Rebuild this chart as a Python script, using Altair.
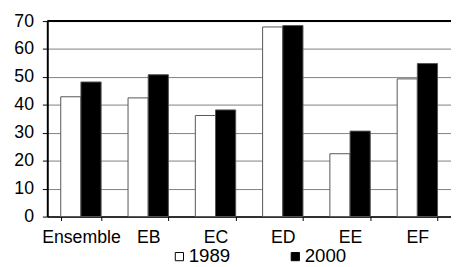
import altair as alt
import pandas as pd

categories = ["Ensemble", "EB", "EC", "ED", "EE", "EF"]
series = ["1989", "2000"]
values_1989 = [42.9, 42.5, 36.2, 67.9, 22.5, 49.3]
values_2000 = [48.2, 50.8, 38.2, 68.4, 30.6, 54.8]
y_ticks = [0, 10, 20, 30, 40, 50, 60, 70]

rows = []
for c, a, b in zip(categories, values_1989, values_2000):
    rows.append({"cat": c, "year": "1989", "v": a})
    rows.append({"cat": c, "year": "2000", "v": b})
df = pd.DataFrame(rows)

FONT = "Liberation Sans"

y_axis = alt.Axis(values=y_ticks, labelFontSize=18, labelFont=FONT, labelColor="black",
                  domainColor="black", domainWidth=2, tickColor="black", tickSize=5,
                  labelPadding=9, labelOverlap=False, grid=True, gridColor="#808080",
                  gridWidth=1, title=None)
y_scale = alt.Scale(domain=[0, 70], nice=False)

x = alt.X("cat:N", sort=categories, title=None,
          scale=alt.Scale(paddingInner=0.4, paddingOuter=0.2),
          axis=alt.Axis(labelAngle=0, labelFontSize=18, labelFont=FONT, labelColor="black",
                        domainColor="black", domainWidth=1.5, tickColor="black",
                        tickSize=4, labelPadding=8, tickBand="extent", grid=False))

bars = alt.Chart(df).mark_bar(stroke="#555555", strokeWidth=1).encode(
    x=x,
    y=alt.Y("v:Q", title=None, scale=y_scale, axis=y_axis),
    xOffset=alt.XOffset("year:N", sort=series, scale=alt.Scale(paddingInner=0, paddingOuter=0)),
    color=alt.Color("year:N", sort=series,
                    scale=alt.Scale(domain=series, range=["white", "black"]),
                    legend=alt.Legend(title=None, orient="none", direction="horizontal",
                                      legendX=125, legendY=230,
                                      symbolType="square", symbolSize=70,
                                      symbolStrokeColor="black", symbolStrokeWidth=1,
                                      labelFontSize=19, labelFont=FONT, labelColor="black",
                                      labelOffset=0, columnPadding=56)),
)

top = alt.Chart(pd.DataFrame({"t": [max(y_ticks)]})).mark_rule(color="black", strokeWidth=2).encode(
    y=alt.Y("t:Q", title=None, scale=y_scale, axis=y_axis)
)

chart = alt.layer(bars, top).properties(
    width=411, height=199,
    autosize=alt.AutoSizeParams(type="none"),
    padding={"left": 40, "top": 11, "right": 0, "bottom": 49},
).configure_view(stroke=None)

chart.save("out.html", embed_options={"renderer": "svg", "actions": False})
